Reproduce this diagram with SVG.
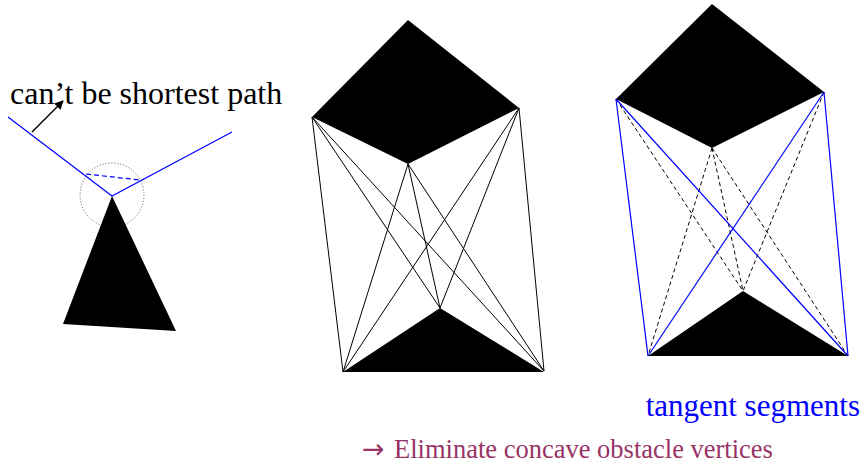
<svg xmlns="http://www.w3.org/2000/svg" width="866" height="467" viewBox="0 0 866 467">
<style>
.obs{fill:#000;stroke:none}
.vis{stroke:#000;stroke-width:1;fill:none}
.tan{stroke:#0000ff;stroke-width:1.2;fill:none}
.dash{stroke:#000;stroke-width:1;stroke-dasharray:4,3;fill:none}
text{font-family:'Liberation Serif','Times New Roman','DejaVu Serif',serif}
</style>
<defs>
<marker id="ah" viewBox="0 0 10 10" refX="9" refY="5" markerWidth="9" markerHeight="9" orient="auto" markerUnits="userSpaceOnUse">
<path d="M0,0 L10,5 L0,10 z" fill="#000"/>
</marker>
</defs>
<rect width="866" height="467" fill="#fff"/>

<!-- Left figure -->
<g id="left-figure">
<circle cx="112" cy="195" r="32" fill="none" stroke="#555" stroke-width="1" stroke-dasharray="1,2"/>
<polyline points="8,117 112,196 232,132" class="tan"/>
<line x1="86" y1="174" x2="140" y2="180" stroke="#0000ff" stroke-width="1.2" stroke-dasharray="5,3"/>
<polygon id="obstacle-left" class="obs" points="112,196 63,324 176,331"/>
<line x1="32" y1="132" x2="63" y2="101" stroke="#000" stroke-width="1.5" marker-end="url(#ah)"/>
<text x="10" y="104" font-family="Liberation Serif" font-size="32" fill="#000">can’t be shortest path</text>
</g>

<!-- Middle figure -->
<g id="middle-figure">
<g id="mid-connectors">
<line class="vis" x1="312" y1="117" x2="343" y2="372"/>
<line class="vis" x1="312" y1="117" x2="544" y2="371"/>
<line class="vis" x1="312" y1="117" x2="440" y2="308"/>
<line class="vis" x1="519" y1="108" x2="544" y2="371"/>
<line class="vis" x1="519" y1="108" x2="343" y2="372"/>
<line class="vis" x1="519" y1="108" x2="440" y2="308"/>
<line class="vis" x1="408" y1="164" x2="343" y2="372"/>
<line class="vis" x1="408" y1="164" x2="544" y2="371"/>
<line class="vis" x1="408" y1="164" x2="440" y2="308"/>
</g>
<polygon id="mid-top" class="obs" points="408,20 519,108 408,164 312,117"/>
<polygon id="mid-bottom" class="obs" points="440,308 544,372 343,372"/>
</g>

<!-- Right figure -->
<g id="right-figure">
<g id="right-connectors">
<line class="dash" x1="616" y1="99" x2="743" y2="291"/>
<line class="dash" x1="824" y1="92" x2="743" y2="291"/>
<line class="dash" x1="712" y1="148" x2="648" y2="356"/>
<line class="dash" x1="712" y1="148" x2="743" y2="291"/>
<line class="dash" x1="712" y1="148" x2="848" y2="356"/>
<line class="tan" x1="616" y1="99" x2="648" y2="356"/>
<line class="tan" x1="616" y1="99" x2="848" y2="356"/>
<line class="tan" x1="824" y1="92" x2="648" y2="356"/>
<line class="tan" x1="824" y1="92" x2="848" y2="356"/>
</g>
<polygon id="right-top" class="obs" points="712,4 824,92 712,148 616,99"/>
<polygon id="right-bottom" class="obs" points="743,291 848,356 648,356"/>
</g>

<text x="860" y="416" font-family="Liberation Serif" font-size="31" fill="#0000ff" text-anchor="end">tangent segments</text>
<text y="458" font-family="Liberation Serif" font-size="26.5" fill="#993366"><tspan x="362" font-family="DejaVu Sans" font-size="27">→</tspan><tspan x="394">Eliminate concave obstacle vertices</tspan></text>
</svg>
